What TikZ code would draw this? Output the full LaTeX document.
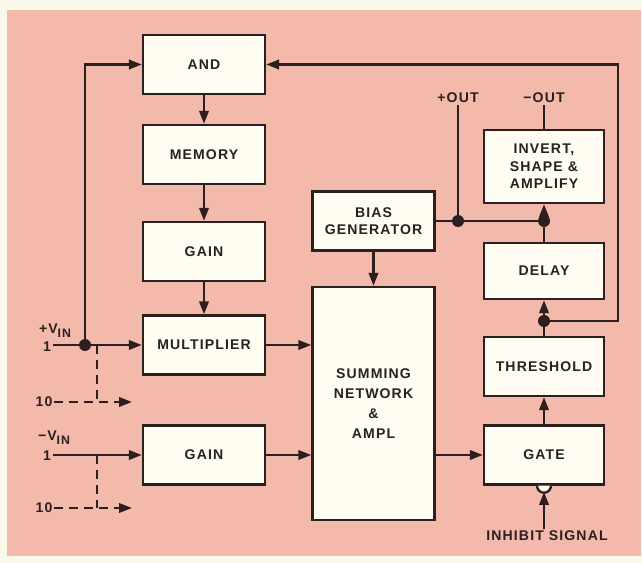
\documentclass[tikz,border=0pt]{standalone}
\usepackage{fontspec}
\setsansfont{Liberation Sans}[LetterSpace=8]
\usetikzlibrary{arrows.meta,positioning}
\definecolor{pageEdge}{HTML}{FBF8EC}
\definecolor{pinkFill}{HTML}{F3BAAC}
\definecolor{boxFill}{HTML}{FFFCF2}
\definecolor{lineDark}{HTML}{2B1F1F}

\begin{document}
\begin{tikzpicture}[x=0.02cm,y=-0.02cm,
  font=\sffamily\bfseries\fontsize{8}{10}\selectfont,>={Triangle[length=2.6mm,width=1.9mm]},
  block/.style={rectangle,draw=lineDark,line width=1.4pt,fill=boxFill,text=lineDark,minimum width=2.44cm,minimum height=1.18cm,align=center,inner sep=1pt},
  edge/.style={->,line width=1.3pt,draw=lineDark},
  wire/.style={line width=1.3pt,draw=lineDark},
  tap/.style={line width=1.3pt,draw=lineDark,dash pattern=on 5pt off 3.5pt},
  dot/.style={circle,fill=lineDark,inner sep=0pt,minimum size=2.4mm},
  tag/.style={text=lineDark,inner sep=1pt}
]
\useasboundingbox (0,0) rectangle (642,563);
\fill[pageEdge] (0,0) rectangle (642,563);
\fill[pinkFill] (7,10) rectangle (641,556);
% Left column feeds the summing network; right column closes the loop back to AND.
\node[block] (andblock) at (204,64.5) {AND};
\node[block] (memory) at (204,154.5) {MEMORY};
\node[block] (gaintop) at (204,251.5) {GAIN};
\node[block] (multiplier) at (204,345) {MULTIPLIER};
\node[block] (gainbottom) at (204,455) {GAIN};
\node[block] (bias) at (373.5,221) {BIAS\\GENERATOR};
\node[block,minimum height=4.66cm,font=\sffamily\bfseries\fontsize{8}{11.5}\selectfont] (summing) at (373.5,403.5) {SUMMING\\NETWORK\\\&\\AMPL};
\node[block,minimum width=2.4cm,minimum height=1.46cm] (invert) at (544,166.5) {INVERT,\\SHAPE \&\\AMPLIFY};
\node[block,minimum width=2.4cm,minimum height=1.12cm] (delay) at (544,271) {DELAY};
\node[block,minimum width=2.4cm] (threshold) at (544,366.5) {THRESHOLD};
\node[block,minimum width=2.4cm] (gate) at (544,455) {GATE};
\node[tag] (vinplus) at (55,331) {+V\raisebox{-0.5ex}{\fontsize{7}{7}\selectfont IN}};
\node[tag] (inplus) at (47,347) {1};
\node[tag] (tenplus) at (44,402) {10};
\node[tag] (vinminus) at (54,438) {−V\raisebox{-0.5ex}{\fontsize{7}{7}\selectfont IN}};
\node[tag] (inminus) at (47,456) {1};
\node[tag] (tenminus) at (44,508) {10};
\node[tag] (plusout) at (458,98) {+OUT};
\node[tag] (minusout) at (544,98) {−OUT};
\node[tag] (inhibit) at (547,536) {INHIBIT SIGNAL};
\node[dot] (splitplus) at (85,345) {};
\node[dot] (joinbias) at (458,221) {};
\node[dot] (joininvert) at (544,221) {};
\node[dot] (joindelay) at (544,321) {};
\coordinate (tapplus) at (97,345);
\coordinate (tapminus) at (97,455);
\coordinate (tapplusend) at (132,402);
\coordinate (tapminusend) at (132,508);
\coordinate (feedback) at (618,64.5);
\coordinate (bubble) at (544,492);
\draw[edge] (andblock) -- (memory);
\draw[edge] (memory) -- (gaintop);
\draw[edge] (gaintop) -- (multiplier);
\draw[edge] (bias) -- (summing);
\draw[edge] (multiplier.west -| inplus.east) -- (multiplier.west);
\draw[edge] (splitplus) |- (andblock.west);
\draw[edge] (gainbottom.west -| inminus.east) -- (gainbottom.west);
\draw[tap] (tapplus) -- (tapplus |- tenplus);
\draw[tap,->] (tenplus.east) -- (tapplusend);
\draw[tap] (tapminus) -- (tapminus |- tenminus);
\draw[tap,->] (tenminus.east) -- (tapminusend);
\draw[edge] (multiplier.east) -- (multiplier.east -| summing.west);
\draw[edge] (gainbottom.east) -- (gainbottom.east -| summing.west);
\draw[edge] (gate.west -| summing.east) -- (gate.west);
\draw[edge] (gate) -- (threshold);
\draw[edge] (threshold) -- (delay);
\draw[edge] (joindelay) -| (feedback) -- (andblock.east);
\draw[wire] (bias.east) -- (joininvert);
\draw[wire] (delay.north) -- (joininvert);
\draw[edge] (joininvert) -- (invert.south);
\draw[wire] (joinbias) -- (plusout.south);
\draw[wire] (invert.north) -- (minusout.south);
\draw[wire,fill=boxFill] ([xshift=-0.14cm]gate.south) arc[start angle=180,end angle=360,radius=0.14cm];
\draw[edge] (bubble |- inhibit.north) -- (bubble);
\end{tikzpicture}
\end{document}
